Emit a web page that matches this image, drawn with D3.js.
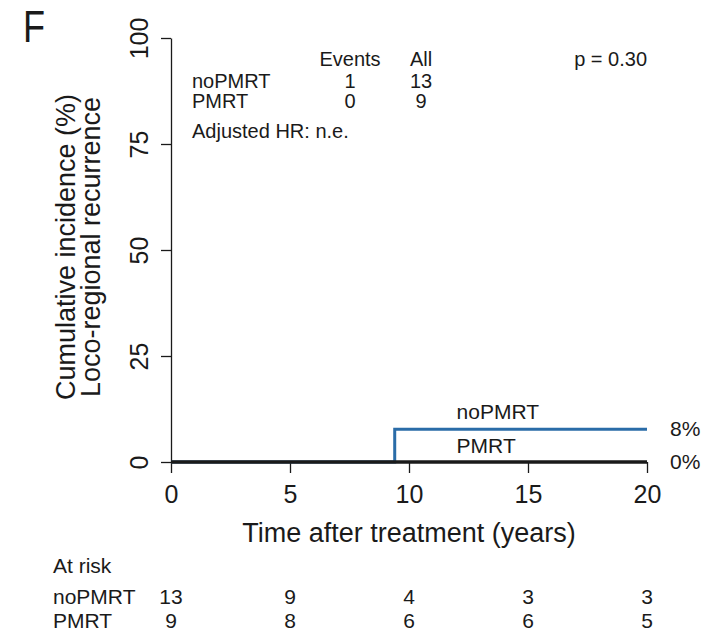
<!DOCTYPE html>
<html>
<head>
<meta charset="utf-8">
<script src="https://cdn.jsdelivr.net/npm/d3@7"></script>
<style>
  body { margin: 0; background: #fff; }
  svg { display: block; font-family: Arial, "Liberation Sans", sans-serif; }
  text { fill: #1a1a1a; }
</style>
</head>
<body>
<svg id="chart" width="714" height="635"></svg>
<script>
// --- data ---
const groups = ["noPMRT", "PMRT"];
const events = [1, 0];
const totals = [13, 9];
const timeTicks = [0, 5, 10, 15, 20];
const yTicks = [0, 25, 50, 75, 100];
const atRiskNoPMRT = [13, 9, 4, 3, 3];
const atRiskPMRT = [9, 8, 6, 6, 5];
const finalPct = ["8%", "0%"];
const pValue = "p = 0.30";
// cumulative incidence curves (time in years, value in %)
const noPMRTCurve = [{t: 0, v: 0}, {t: 9.4, v: 7.7}, {t: 20, v: 7.7}];
const pmrtCurve = [{t: 0, v: 0}, {t: 20, v: 0}];

const svg = d3.select("#chart");

const x = d3.scaleLinear().domain([0, 20]).range([171, 647]);
const y = d3.scaleLinear().domain([0, 100]).range([462, 38]);

// panel letter (narrow, like the original)
svg.append("text")
    .attr("transform", "translate(23,42) scale(0.82,1)")
    .style("font-size", "44px")
    .text("F");

// y axis
const yAxis = svg.append("g")
    .attr("transform", `translate(${x(0)},0)`)
    .call(d3.axisLeft(y).tickValues(yTicks).tickSize(10).tickSizeOuter(0));
yAxis.select(".domain").attr("stroke", "#1a1a1a").attr("stroke-width", 1.3);
yAxis.selectAll(".tick line").attr("stroke", "#1a1a1a").attr("stroke-width", 1.3);
yAxis.selectAll(".tick text")
    .attr("x", 0).attr("dy", 0)
    .attr("transform", "translate(-23,0) rotate(-90)")
    .attr("text-anchor", "middle")
    .attr("fill", "#1a1a1a")
    .style("font-size", "25px")
    .style("font-family", "Arial, 'Liberation Sans', sans-serif");

// x axis
const xAxis = svg.append("g")
    .attr("transform", `translate(0,${y(0)})`)
    .call(d3.axisBottom(x).tickValues(timeTicks).tickSize(11).tickSizeOuter(0));
xAxis.select(".domain").remove();
xAxis.selectAll(".tick line").attr("stroke", "#1a1a1a").attr("stroke-width", 1.3);
xAxis.selectAll(".tick text")
    .attr("y", 41).attr("dy", 0)
    .attr("fill", "#1a1a1a")
    .style("font-size", "25px")
    .style("font-family", "Arial, 'Liberation Sans', sans-serif");

// axis titles
svg.append("text")
    .attr("x", 409).attr("y", 542)
    .attr("text-anchor", "middle")
    .style("font-size", "27px")
    .text("Time after treatment (years)");

const yTitle = svg.append("text")
    .attr("transform", "translate(75,247) rotate(-90)")
    .attr("text-anchor", "middle")
    .style("font-size", "27px");
yTitle.append("tspan").attr("x", 0).attr("y", 0).text("Cumulative incidence (%)");
yTitle.append("tspan").attr("x", 0).attr("y", 25).text("Loco-regional recurrence");

// curves
const line = d3.line()
    .x(d => x(d.t))
    .y(d => y(d.v))
    .curve(d3.curveStepAfter);

svg.append("path")
    .datum(noPMRTCurve)
    .attr("d", line)
    .attr("fill", "none")
    .attr("stroke", "#2a6ca8")
    .attr("stroke-width", 3);

svg.append("path")
    .datum(pmrtCurve)
    .attr("d", line)
    .attr("fill", "none")
    .attr("stroke", "#1a1a1a")
    .attr("stroke-width", 3.3);

// curve labels
svg.append("text")
    .attr("x", x(12)).attr("y", 419)
    .style("font-size", "21px")
    .text(groups[0]);
svg.append("text")
    .attr("x", x(12)).attr("y", 453)
    .style("font-size", "21px")
    .text(groups[1]);

// final percentages
svg.selectAll(".final-pct")
    .data(finalPct)
    .enter().append("text")
    .attr("class", "final-pct")
    .attr("x", 670)
    .attr("y", (d, i) => y(i === 0 ? noPMRTCurve[noPMRTCurve.length - 1].v : pmrtCurve[pmrtCurve.length - 1].v) + 7)
    .style("font-size", "21px")
    .text(d => d);

// events table
const tbl = svg.append("g").style("font-size", "20px");
tbl.append("text").attr("x", 350).attr("y", 66).attr("text-anchor", "middle").text("Events");
tbl.append("text").attr("x", 421).attr("y", 66).attr("text-anchor", "middle").text("All");
const rowY = [88, 108];
groups.forEach((g, i) => {
    tbl.append("text").attr("x", 192).attr("y", rowY[i]).text(g);
    tbl.append("text").attr("x", 350).attr("y", rowY[i]).attr("text-anchor", "middle").text(events[i]);
    tbl.append("text").attr("x", 421).attr("y", rowY[i]).attr("text-anchor", "middle").text(totals[i]);
});
tbl.append("text").attr("x", 192).attr("y", 138).text("Adjusted HR: n.e.");

svg.append("text")
    .attr("x", x(20)).attr("y", 66)
    .attr("text-anchor", "end")
    .style("font-size", "20px")
    .text(pValue);

// at risk table
const risk = svg.append("g").style("font-size", "21px");
risk.append("text").attr("x", 53).attr("y", 573).text("At risk");
const riskRows = [atRiskNoPMRT, atRiskPMRT];
const riskY = [604, 628];
riskRows.forEach((row, i) => {
    risk.append("text").attr("x", 53).attr("y", riskY[i]).text(groups[i]);
    risk.selectAll(".r" + i)
        .data(row)
        .enter().append("text")
        .attr("class", "r" + i)
        .attr("x", (d, j) => x(timeTicks[j]))
        .attr("y", riskY[i])
        .attr("text-anchor", "middle")
        .text(d => d);
});
</script>
</body>
</html>
